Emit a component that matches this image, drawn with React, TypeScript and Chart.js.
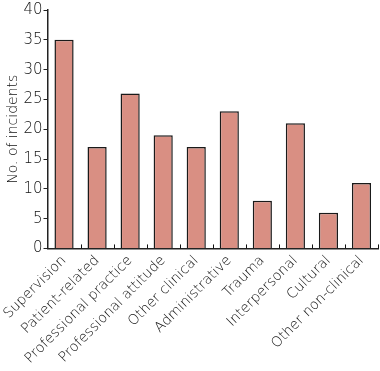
import React, { useEffect, useRef } from "react";
import { Chart, registerables } from "chart.js";

Chart.register(...registerables);

const categories = [
  "Supervision",
  "Patient-related",
  "Professional practice",
  "Professional attitude",
  "Other clinical",
  "Administrative",
  "Trauma",
  "Interpersonal",
  "Cultural",
  "Other non-clinical",
];
const incidents = [35, 17, 26, 19, 17, 23, 8, 21, 6, 11];
const yTitle = "No. of incidents";

const FONT = "'DejaVu Sans', sans-serif";
const INK = "#111";

const innerTicks = {
  id: "innerTicks",
  afterDatasetsDraw(chart: any) {
    const x = chart.scales.x;
    const ctx = chart.ctx;
    const bottom = chart.chartArea.bottom;
    ctx.save();
    ctx.strokeStyle = INK;
    ctx.lineWidth = 1;
    for (let i = 1; i <= categories.length; i++) {
      const px = Math.round(x.getPixelForValue(i - 0.5)) + 0.5;
      ctx.beginPath();
      ctx.moveTo(px, bottom);
      ctx.lineTo(px, bottom - 4);
      ctx.stroke();
    }
    ctx.restore();
  },
};

export default function App() {
  const ref = useRef<HTMLCanvasElement>(null);
  useEffect(() => {
    document.body.style.margin = "0";
    const chart = new Chart(ref.current!, {
      type: "bar",
      data: {
        labels: categories,
        datasets: [
          {
            data: incidents,
            backgroundColor: "#D98F83",
            borderColor: "#1a1a1a",
            borderWidth: 1.5,
            barPercentage: 0.58,
            categoryPercentage: 1,
          },
        ],
      },
      options: {
        animation: false,
        responsive: false,
        maintainAspectRatio: false,
        layout: { padding: { top: 0, right: 2, left: 0, bottom: 0 } },
        plugins: { legend: { display: false }, tooltip: { enabled: false } },
        scales: {
          x: {
            grid: { display: false, drawTicks: false },
            border: { display: true, color: "#222", width: 1.5 },
            ticks: {
              color: INK,
              font: { family: FONT, size: 14, weight: 200 as any },
              minRotation: 45,
              maxRotation: 45,
              padding: 4,
            },
          },
          y: {
            min: 0,
            max: 40,
            grid: { display: true, drawOnChartArea: false, drawTicks: true, tickLength: 4, color: "#222" },
            border: { display: true, color: "#222", width: 1.5 },
            ticks: {
              stepSize: 5,
              color: INK,
              font: { family: FONT, size: 15, weight: 200 as any },
              padding: 1,
            },
            title: {
              display: true,
              text: yTitle,
              color: INK,
              font: { family: FONT, size: 14, weight: 200 as any },
              padding: 1,
            },
          },
        },
      },
      plugins: [innerTicks],
    });
    return () => chart.destroy();
  }, []);
  return (
    <div style={{ position: "absolute", left: 0, top: 0, width: 380, height: 371 }}>
      <canvas ref={ref} width={380} height={371} style={{ width: 380, height: 371 }} />
    </div>
  );
}
